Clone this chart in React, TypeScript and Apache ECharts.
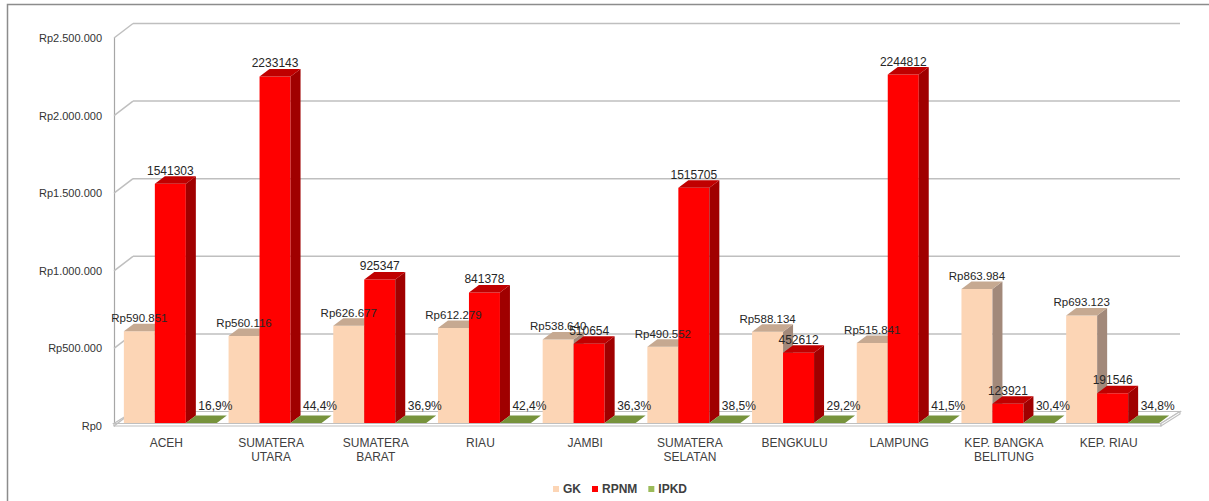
import { useEffect, useRef } from "react";
import * as echarts from "echarts";

// Provinces of Sumatra (two-line labels where the name wraps)
const categories = [
  "ACEH",
  "SUMATERA\nUTARA",
  "SUMATERA\nBARAT",
  "RIAU",
  "JAMBI",
  "SUMATERA\nSELATAN",
  "BENGKULU",
  "LAMPUNG",
  "KEP. BANGKA\nBELITUNG",
  "KEP. RIAU",
];

// Garis kemiskinan (Rp)
const gk = [590851, 560116, 626677, 612279, 538640, 490552, 588134, 515841, 863984, 693123];
// RPNM (Rp)
const rpnm = [1541303, 2233143, 925347, 841378, 510654, 1515705, 452612, 2244812, 123921, 191546];
// IPKD (%)
const ipkd = [16.9, 44.4, 36.9, 42.4, 36.3, 38.5, 29.2, 41.5, 30.4, 34.8];

const valueTicks = [0, 500000, 1000000, 1500000, 2000000, 2500000];

const FONT = "'Liberation Sans', Arial, sans-serif";

// depth of the walls / floor
const WALL_DX = 19;
const WALL_DY = -14.5;
// where the bars stand inside that depth, and the bars' own depth
const BAR_SHIFT_X = 4;
const BAR_SHIFT_Y = -3;
const BAR_DX = 10;
const BAR_DY = -7.5;
const BAR_FRACTION = 0.296;

const rupiah = (v: number) =>
  "Rp" + String(Math.round(v)).replace(/\B(?=(\d{3})+(?!\d))/g, ".");
const percent = (v: number) => v.toFixed(1).replace(".", ",") + "%";

type Palette = { name: string; front: string; side: string; top: string; legend: string };

const palettes: Palette[] = [
  { name: "GK", front: "#FCD5B5", side: "#A2897A", top: "#C6A991", legend: "#FCD5B5" },
  { name: "RPNM", front: "#FF0000", side: "#A00000", top: "#C00000", legend: "#FF0000" },
  { name: "IPKD", front: "#9BBB59", side: "#5E7530", top: "#77933C", legend: "#9BBB59" },
];

// IPKD is a percentage plotted on the rupiah axis, so it is stored as a fraction there
const seriesValues = [gk, rpnm, ipkd.map((p) => p / 100)];
const labelTexts = [gk.map(rupiah), rpnm.map((v) => String(v)), ipkd.map(percent)];

function barGeometry(api: any, k: number) {
  const idx = api.value(0);
  const val = api.value(1);
  const base = api.coord([idx, 0]);
  const top = api.coord([idx, val]);
  const band = api.size([1, 0])[0];
  const w = band * BAR_FRACTION;
  const x0 = base[0] + BAR_SHIFT_X + (k - 1.5) * w;
  const yb = base[1] + BAR_SHIFT_Y;
  const yt = top[1] + BAR_SHIFT_Y;
  return { x0, w, yb, yt };
}

function makeBarSeries(k: number) {
  const p = palettes[k];
  return {
    type: "custom",
    name: p.name,
    z: 2,
    clip: false,
    itemStyle: { color: p.legend },
    encode: { x: 0, y: 1 },
    data: seriesValues[k].map((v, i) => [i, v]),
    renderItem: (_params: any, api: any) => {
      const { x0, w, yb, yt } = barGeometry(api, k);
      const h = yb - yt;
      const children: any[] = [];
      if (h > 0.3) {
        children.push({
          type: "rect",
          shape: { x: x0, y: yt, width: w, height: h },
          style: { fill: p.front },
        });
        children.push({
          type: "polygon",
          shape: {
            points: [
              [x0 + w, yt],
              [x0 + w + BAR_DX, yt + BAR_DY],
              [x0 + w + BAR_DX, yb + BAR_DY],
              [x0 + w, yb],
            ],
          },
          style: { fill: p.side },
        });
      }
      children.push({
        type: "polygon",
        shape: {
          points: [
            [x0, yt],
            [x0 + BAR_DX, yt + BAR_DY],
            [x0 + w + BAR_DX, yt + BAR_DY],
            [x0 + w, yt],
          ],
        },
        style: { fill: p.top },
      });
      return { type: "group", children };
    },
  };
}

function makeLabelSeries(k: number) {
  const sizes = [11.5, 12, 12];
  return {
    type: "custom",
    name: palettes[k].name + "-label",
    z: 5,
    clip: false,
    silent: true,
    encode: { x: 0, y: 1 },
    data: seriesValues[k].map((v, i) => [i, v]),
    renderItem: (params: any, api: any) => {
      const { x0, w, yb, yt } = barGeometry(api, k);
      const flat = k === 2;
      const cx = x0 + w / 2 + (flat ? 14 : 0);
      const cy = flat ? yb + BAR_DY - 10 : yt + BAR_DY - 5.5;
      return {
        type: "text",
        style: {
          x: cx,
          y: cy,
          text: labelTexts[k][params.dataIndex],
          fill: "#262626",
          font: `${sizes[k]}px ${FONT}`,
          align: "center",
          verticalAlign: "middle",
        },
      };
    },
  };
}

// back wall grid lines, left wall lines and the floor slab
const wallSeries = {
  type: "custom",
  name: "wall",
  z: 1,
  clip: false,
  silent: true,
  encode: { x: 0, y: 1 },
  data: valueTicks.map((v) => [0, v]),
  renderItem: (params: any, api: any) => {
    const cs = params.coordSys;
    const L = cs.x;
    const R = cs.x + cs.width;
    const y = api.coord([0, api.value(1)])[1];
    const line = { stroke: "#BFBFBF", lineWidth: 1.5 };
    const children: any[] = [];
    if (params.dataIndex === 0) {
      const B = y;
      const t = 2.5;
      children.push({
        type: "polygon",
        shape: {
          points: [
            [L, B - t],
            [R, B - t],
            [R + WALL_DX, B + WALL_DY],
            [L + WALL_DX, B + WALL_DY],
          ],
        },
        style: { fill: "#FFFFFF", stroke: "#BFBFBF", lineWidth: 1.2 },
      });
      children.push({
        type: "polygon",
        shape: {
          points: [
            [L, B - t],
            [R, B - t],
            [R, B],
            [L, B],
          ],
        },
        style: { fill: "#FFFFFF", stroke: "#BFBFBF", lineWidth: 1.2 },
      });
      children.push({
        type: "polygon",
        shape: {
          points: [
            [R, B - t],
            [R + WALL_DX, B + WALL_DY],
            [R + WALL_DX, B + WALL_DY + t],
            [R, B],
          ],
        },
        style: { fill: "#FFFFFF", stroke: "#BFBFBF", lineWidth: 1.2 },
      });
    } else {
      children.push({
        type: "line",
        shape: { x1: L + WALL_DX, y1: y + WALL_DY, x2: R + WALL_DX, y2: y + WALL_DY },
        style: line,
      });
    }
    children.push({
      type: "line",
      shape: { x1: L, y1: y, x2: L + WALL_DX, y2: y + WALL_DY },
      style: line,
    });
    return { type: "group", children };
  },
};

export default function App() {
  const ref = useRef<HTMLDivElement>(null);

  useEffect(() => {
    if (!ref.current) return;
    const chart = echarts.init(ref.current, undefined, { renderer: "svg" });
    chart.setOption({
      animation: false,
      backgroundColor: "#FFFFFF",
      graphic: [
        {
          type: "rect",
          shape: { x: 7.5, y: 4.5, width: 1400, height: 800 },
          style: { fill: "none", stroke: "#8C8C8C", lineWidth: 1.5 },
          z: 0,
        },
      ],
      grid: { left: 114, top: 38, width: 1047, height: 388, containLabel: false },
      legend: {
        data: palettes.map((p) => p.name),
        left: 548,
        top: 478,
        icon: "rect",
        itemWidth: 6,
        itemHeight: 6,
        itemGap: 11,
        textStyle: { fontFamily: FONT, fontSize: 12, fontWeight: "bold", color: "#404040", padding: [0, 0, 0, -1] },
      },
      xAxis: {
        type: "category",
        data: categories,
        axisLine: { show: false },
        axisTick: { show: false },
        splitLine: { show: false },
        axisLabel: {
          interval: 0,
          margin: 10,
          fontFamily: FONT,
          fontSize: 12,
          lineHeight: 14,
          color: "#404040",
        },
      },
      yAxis: {
        type: "value",
        min: 0,
        max: 2500000,
        interval: 500000,
        axisLine: { show: true, lineStyle: { color: "#A6A6A6", width: 1.2 } },
        axisTick: { show: false },
        splitLine: { show: false },
        axisLabel: {
          formatter: (v: number) => rupiah(v),
          margin: 12,
          fontFamily: FONT,
          fontSize: 11,
          color: "#333333",
        },
      },
      series: [
        wallSeries,
        makeBarSeries(0),
        makeBarSeries(1),
        makeBarSeries(2),
        makeLabelSeries(0),
        makeLabelSeries(1),
        makeLabelSeries(2),
      ],
    });
    return () => chart.dispose();
  }, []);

  return (
    <div
      ref={ref}
      style={{ position: "absolute", left: 0, top: 0, width: 1209, height: 501, background: "#FFFFFF" }}
    />
  );
}
